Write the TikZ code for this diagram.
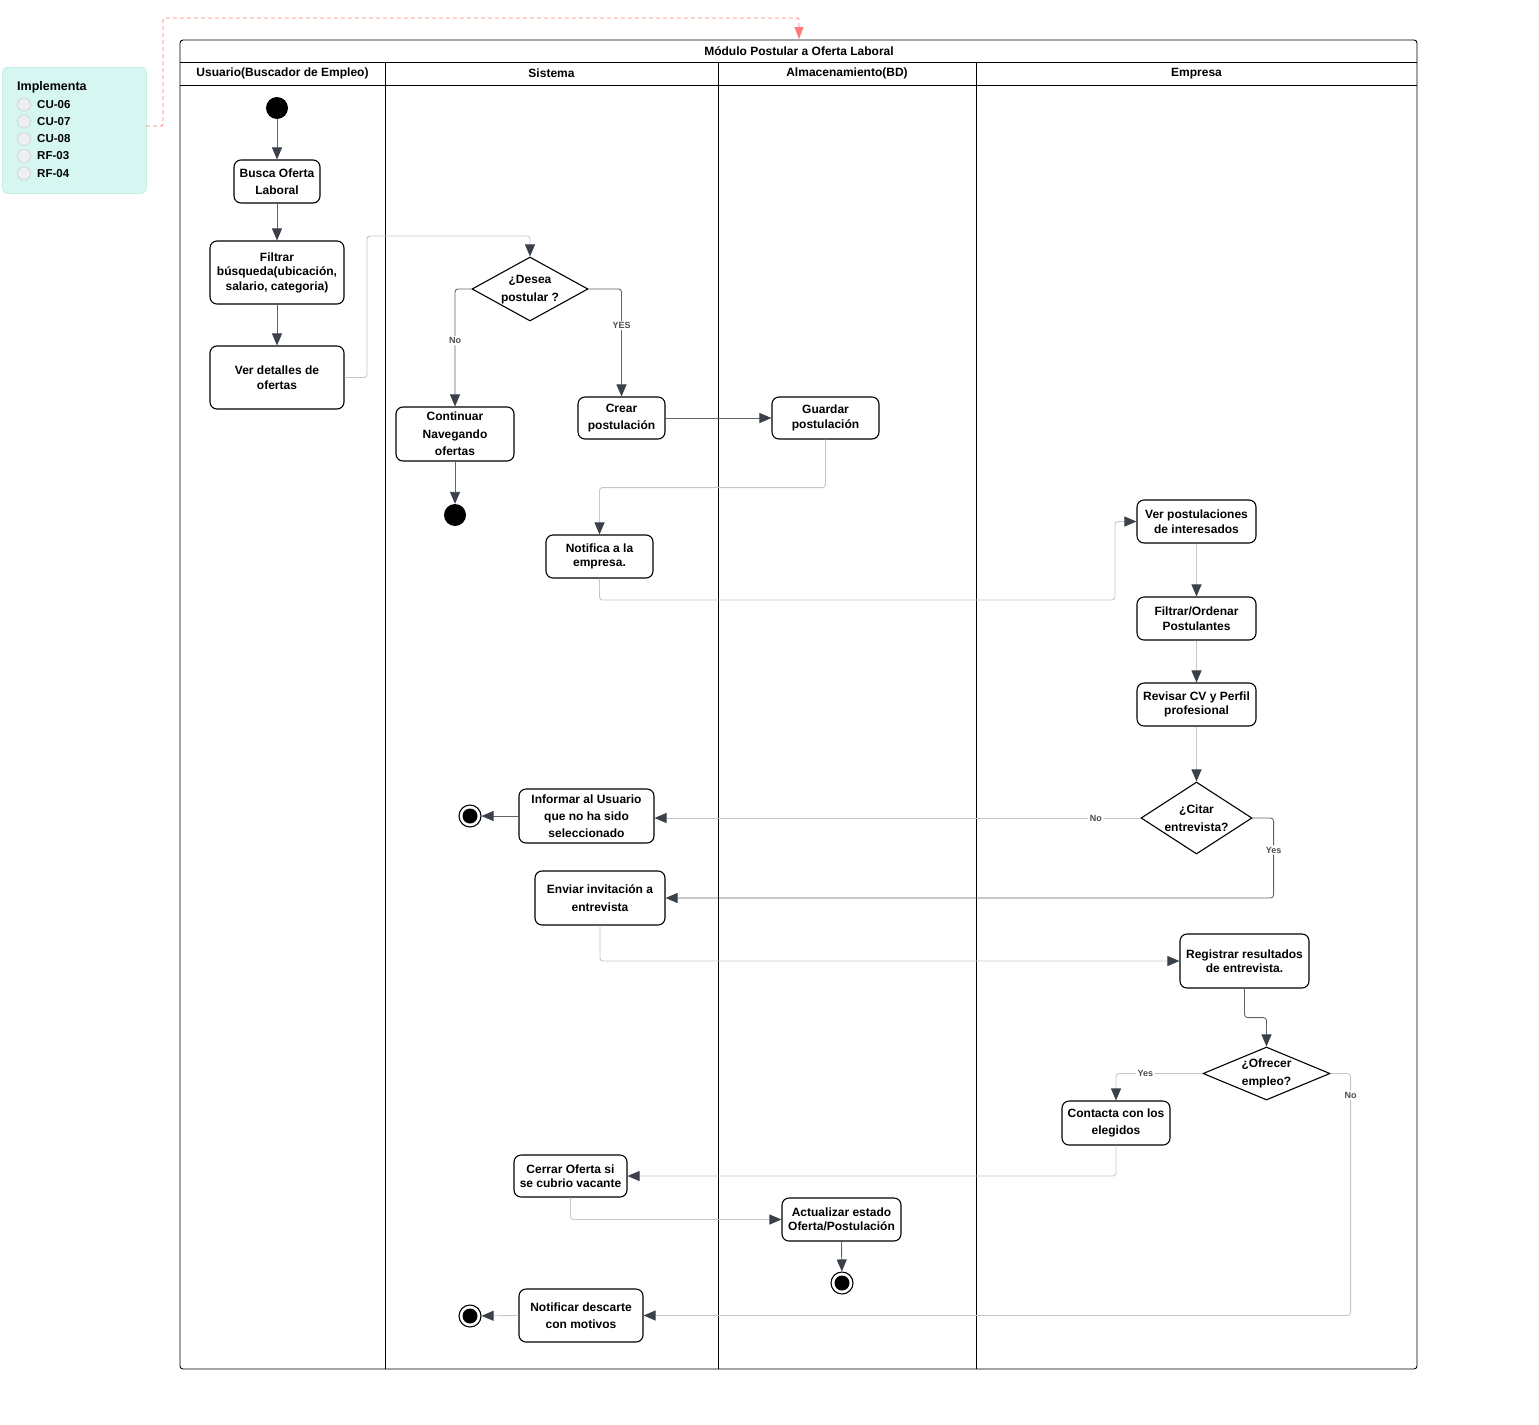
\documentclass[tikz,border=0pt]{standalone}
\usepackage{fontspec}
\setmainfont{Liberation Sans}
\usetikzlibrary{arrows.meta,shapes.geometric}
\definecolor{tipc}{HTML}{3B414A}
\definecolor{lndk}{HTML}{5F646B}
\definecolor{lnlt}{HTML}{C3C6CA}
\definecolor{legfill}{HTML}{D6F7F1}
\definecolor{legdraw}{HTML}{C6EEE6}
\definecolor{linkred}{HTML}{FF7A7A}
\definecolor{chkfill}{HTML}{EEEFF0}
\definecolor{chkdraw}{HTML}{CDD0D3}
\definecolor{lbl}{HTML}{4A4D52}

\begin{document}
\begin{tikzpicture}[x=1pt,y=-1pt,
  act/.style={draw=black,line width=1.1pt,rounded corners=7pt,fill=white,
    align=center,inner sep=0pt,font=\bfseries\fontsize{12}{14.5}\selectfont},
  wide/.style={font=\bfseries\fontsize{12}{17.3}\selectfont},
  sz/.style 2 args={minimum width=#1pt,minimum height=#2pt},
  decision/.style={diamond,draw=black,line width=1.1pt,fill=white,inner sep=0pt,
    shape aspect=1},
  dtext/.style={align=center,inner sep=0pt,font=\bfseries\fontsize{12}{17.5}\selectfont},
  startdot/.style={circle,fill=black,minimum size=22pt,inner sep=0pt},
  enddot/.style={circle,draw=black,line width=1.1pt,fill=white,minimum size=22pt,inner sep=0pt,
    path picture={\fill[black] (path picture bounding box.center) circle (7.5pt);}},
  tip/.style={-{Triangle[length=12pt,width=10pt,color=tipc]}},
  dk/.style={tip,draw=lndk,line width=0.9pt,rounded corners=3pt},
  lt/.style={tip,draw=lnlt,line width=0.9pt,rounded corners=3pt},
  guard/.style={fill=white,inner sep=1.5pt,text=lbl,font=\bfseries\fontsize{9}{10}\selectfont},
  lane/.style={font=\bfseries\fontsize{12}{14}\selectfont,inner sep=0pt},
  frame/.style={line width=0.9pt},
  chk/.style={circle,draw=chkdraw,fill=chkfill,line width=0.6pt,minimum size=13pt,inner sep=0pt},
  chktext/.style={anchor=west,inner sep=0pt,font=\bfseries\fontsize{11.5}{13}\selectfont},
  redlink/.style={draw=linkred,line width=0.8pt,dash pattern=on 4pt off 3pt,rounded corners=2pt,
    -{Triangle[length=12pt,width=9pt,color=linkred]}}
]
\useasboundingbox (0,0) rectangle (1539,1424);

% ---------- swimlane frame ----------
\draw[frame,rounded corners=3pt] (180,1369) -- (180,40) -- (1417,40) -- (1417,1369) -- cycle;
\draw[frame] (180,62) -- (1417,62);
\draw[frame] (180,85) -- (1417,85);
\foreach \xx in {385,718,976} \draw[frame] (\xx,62) -- (\xx,1369);
\node[lane] (title) at (799,51.5) {Módulo Postular a Oferta Laboral};
\node[lane] (laneU) at (282.5,73.5) {Usuario(Buscador de Empleo)};
\node[lane] (laneS) at (551.5,73.5) {Sistema};
\node[lane] (laneB) at (847,73.5) {Almacenamiento(BD)};
\node[lane] (laneE) at (1196.5,73.5) {Empresa};

% ---------- legend ----------
\node[draw=legdraw,fill=legfill,line width=0.8pt,rounded corners=5pt,sz={144}{126},anchor=north west] (legend) at (2,67) {};
\node[anchor=west,inner sep=0pt,font=\bfseries\fontsize{12.5}{14}\selectfont] (legtitle) at (17,87) {Implementa};
\foreach \yy/\tt [count=\i] in {104.5/CU-06,121.5/CU-07,139/CU-08,156/RF-03,173.5/RF-04}{
  \node[chk] (chk\i) at (24,\yy) {};
  \node[chktext] (chkt\i) at (37,\yy) {\tt};
}
\coordinate (lk) at (146,126);
\draw[redlink] (lk) -- (163,126) -- (163,18) -- (799,18) -- (title.north |- 0,39);

% ---------- usuario lane ----------
\node[startdot] (start) at (277,108) {};
\node[act,wide,sz={86}{43}] (busca) at (277,181.5) {Busca Oferta\\Laboral};
\node[act,sz={134}{63}] (filtrar) at (277,272.5) {Filtrar\\búsqueda(ubicación,\\salario, categoria)};
\node[act,sz={134}{63}] (detalles) at (277,377.5) {Ver detalles de\\ofertas};

% ---------- sistema lane ----------
\node[decision,sz={116}{64}] (desea) at (530,289) {};
\node[dtext] (deseat) at (530,289.5) {¿Desea\\postular ?};
\node[act,wide,sz={118}{54}] (continuar) at (455,434) {\raisebox{-2pt}{\parbox{110pt}{\centering Continuar\\Navegando\\ofertas}}};
\node[startdot] (endA) at (455,515) {};
\node[act,wide,sz={87}{42}] (crear) at (621.5,418) {Crear\\postulación};
\node[act,sz={107}{43}] (notifica) at (599.5,556.5) {Notifica a la\\empresa.};
\node[act,wide,sz={135}{54}] (informar) at (586.5,816) {Informar al Usuario\\que no ha sido\\seleccionado};
\node[enddot] (fin1) at (470,816) {};
\node[act,wide,sz={130}{54}] (enviar) at (600,898) {Enviar invitación a\\entrevista};
\node[act,sz={113}{42}] (cerrar) at (570.5,1176) {Cerrar Oferta si\\se cubrio vacante};
\node[act,wide,sz={124}{53}] (notificar) at (581,1315.5) {Notificar descarte\\con motivos};
\node[enddot] (fin3) at (470,1316) {};

% ---------- almacenamiento lane ----------
\node[act,sz={107}{42}] (guardar) at (825.5,418) {Guardar\\postulación};
\node[act,sz={119}{43}] (actualizar) at (841.5,1219.5) {Actualizar estado\\Oferta/Postulación};
\node[enddot] (fin2) at (842,1283) {};

% ---------- empresa lane ----------
\node[act,sz={119}{43}] (verpost) at (1196.5,521.5) {Ver postulaciones\\de interesados};
\node[act,sz={119}{43}] (filtord) at (1196.5,618.5) {Filtrar/Ordenar\\Postulantes};
\node[act,sz={119}{43}] (revisar) at (1196.5,704.5) {Revisar CV y Perfil\\profesional};
\node[decision,sz={111}{72}] (citar) at (1196.5,818) {};
\node[dtext] (citart) at (1196.5,818) {¿Citar\\entrevista?};
\node[act,sz={129}{54}] (registrar) at (1244.5,961) {Registrar resultados\\de entrevista.};
\node[decision,sz={127}{53}] (ofrecer) at (1266.5,1073.5) {};
\node[dtext] (ofrecert) at (1266.5,1073.5) {¿Ofrecer\\empleo?};
\node[act,wide,sz={108}{44}] (contacta) at (1116,1123) {Contacta con los\\elegidos};

% ---------- flows ----------
\draw[dk] (start) -- (busca);
\draw[dk] (busca) -- (filtrar);
\draw[dk] (filtrar) -- (detalles);
\draw[lt] (detalles.east) -- (367,377.5) -- (367,236) -| (desea.north);
\draw[dk] (desea.west) -| (continuar.north) node[guard,pos=0.72] {No};
\draw[dk] (desea.east) -| (crear.north) node[guard,pos=0.67] {YES};
\draw[dk] (continuar.south) -- (endA);
\draw[dk] (crear.east) -- (guardar.west);
\draw[lt] (guardar.south) -- ++(0,48) -| (notifica.north);
\draw[lt] (notifica.south) |- (1115,600) |- (verpost.west);
\draw[lt] (verpost) -- (filtord);
\draw[lt] (filtord) -- (revisar);
\draw[lt] (revisar) -- (citar);
\draw[lt] (citar.west) -- (citar.west -| informar.east) node[guard,pos=0.092] {No};
\draw[dk] (informar.west) -- (fin1);
\draw[dk] (citar.east) -- ++(21,0) |- (enviar.east) node[guard,pos=0.2] {Yes};
\draw[lt] (enviar.south) |- (registrar.west);
\draw[dk] (registrar.south) -- ++(0,29) -| (ofrecer.north);
\draw[lt] (ofrecer.west) -| (contacta.north) node[guard,pos=0.33] {Yes};
\draw[lt] (ofrecer.east) -- ++(20,0) |- (notificar.east) node[guard,pos=0.045] {No};
\draw[lt] (contacta.south) |- (cerrar.east);
\draw[lt] (cerrar.south) |- (actualizar.west);
\draw[dk] (actualizar.south) -- (fin2);
\draw[lt] (notificar.west) -- (fin3);
\end{tikzpicture}
\end{document}
